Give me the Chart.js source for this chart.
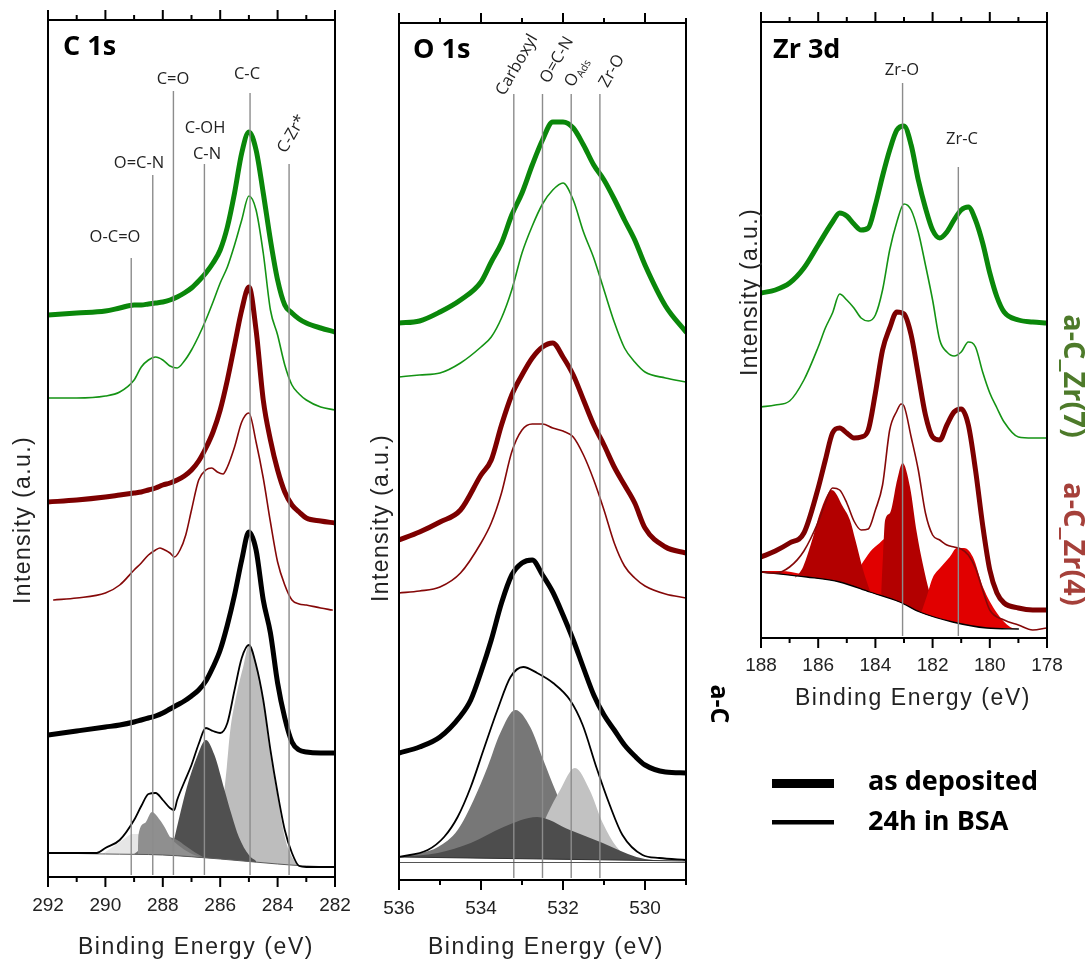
<!DOCTYPE html>
<html><head><meta charset="utf-8">
<script src="https://cdn.jsdelivr.net/npm/chart.js@4.4.1/dist/chart.umd.min.js"></script>
<style>
html,body{margin:0;padding:0;background:#fff;}
#wrap{position:relative;width:1091px;height:963px;overflow:hidden;background:#fff;}
#wrap canvas{position:absolute;left:0;top:0;}
</style></head><body>
<div id="wrap">
<canvas id="c1" width="1091" height="963"></canvas>
<canvas id="c2" width="1091" height="963"></canvas>
<canvas id="c3" width="1091" height="963"></canvas>
</div>
<script>
// ===================== C 1s =====================
const c1sTicks = [292, 290, 288, 286, 284, 282];
const c1sEnergy = [292,291,290,289.5,289,288.75,288.5,288.25,288,287.75,287.5,287.25,287,286.75,286.5,286.25,286,285.75,285.5,285.25,285,284.75,284.5,284.25,284,283.75,283.5,283.25,283,282.5,282];
const c1sZr7Deposited = [562,564,566,569,572,572,573,574,575,577,580,584,589,596,604,614,627,650,684,724,745,727,684,637,597,572,564,558,554,549,545];
const c1sZr7Bsa = [479,479,481,485,497,510,517,520,517,511,509,516,527,541,557,575,594,610,632,657,681,667,624,567,542,512,492,483,477,470,467];
const c1sZr4Deposited = [375,377,380,382,384,385,387,389,392,394,397,401,407,416,429,445,467,497,532,567,590,547,477,437,407,385,372,365,359,356,354];
const c1sZr4BsaEnergy = [291.8,291,290,289.5,289,288.75,288.5,288.25,288.1,288,287.75,287.6,287.4,287.2,287,286.75,286.5,286.3,286.1,285.9,285.75,285.5,285.25,285,284.75,284.5,284.25,284,283.75,283.5,283.25,283,282.5,282.1];
const c1sZr4Bsa = [277,279,284,292,307,314,322,327,329,328,324,320,327,342,367,397,407,409,405,403,410,430,455,464,435,399,355,315,292,277,273,272,269,267];
const c1sAcDeposited = [142,146,150,152,155,157,159,161,164,168,172,176,181,187,196,210,227,252,282,317,345,327,277,244,194,159,135,127,125,124,124];
const c1sAcBsaEnergy = [292,291,290.3,290,289.5,289,288.75,288.5,288.25,288,287.75,287.6,287.5,287.25,287,286.75,286.5,286.25,286,285.75,285.5,285.25,285,284.75,284.5,284.25,284,283.75,283.5,283.25,283,282.5,282];
const c1sAcBsa = [24,24,24,29,37,57,71,83,84,77,69,67,77,95,112,133,149,146,144,154,187,219,232,212,177,127,84,47,24,11,10,10,10];
const c1sBaseEnergy = [292,290,288,286,284,283,282];
const c1sBase = [24,23,22,18,13,11,10];
const c1sOCOEnergy = [290.1,289.75,289.4,289.05,288.7,288.35,287.75,287.25,286.7];
const c1sOCO = [23,30,37,43,43,38,29,24,19];
const c1sOCNEnergy = [288.87,288.85,288.62,288.38,288.1,287.92,287.75,287.47,287.05,286.7];
const c1sOCN = [23,42,54,65,57,49,40,32,24,20];
const c1sCOEnergy = [289.0,288.5,288.2,287.85,287.5,287.2,286.9,286.6];
const c1sCO = [23,34,38,40,37,31,25,20];
const c1sCNEnergy = [287.75,287.57,287.16,286.81,286.5,286.2,285.85,285.6,285.35,285.0,284.75];
const c1sCN = [22,42,90,120,137,122,87,62,40,22,16];
const c1sCCEnergy = [286.7,286.4,286.1,285.9,285.77,285.66,285.42,285.2,285.0,284.75,284.5,284.25,284.0,283.75,283.5,283.3];
const c1sCC = [19,25,50,77,110,144,184,210,232,214,174,122,80,40,20,12];
const c1sRefEnergy = [289.1,288.35,287.63,286.55,284.96,283.6];
const c1sRefTop = [619,702,786,713,784,713];

// ===================== O 1s =====================
const o1sTicks = [536, 534, 532, 530];
const o1sEnergy = [536,535.5,535,534.5,534,533.75,533.5,533.25,533,532.75,532.5,532.25,532,531.75,531.5,531.25,531,530.75,530.5,530.25,530,529.5,529];
const o1sZr7Deposited = [557,559,568,580,598,618,637,665,687,715,740,758,758,752,735,715,700,681,660,640,615,574,548];
const o1sZr7Bsa = [503,505,507,517,533,543,562,590,627,654,676,690,697,680,648,622,590,558,532,518,508,502,498];
const o1sZr4Deposited = [340,348,358,370,405,420,455,485,505,522,533,537,523,505,480,455,435,413,395,377,352,333,327];
const o1sZr4Bsa = [287,289,293,307,337,357,387,428,450,456,456,452,449,443,425,400,370,337,314,302,294,286,282];
const o1sAcDepositedEnergy = [536,535.5,535,534.5,534.25,534,533.75,533.5,533.25,533,532.75,532.5,532.25,532,531.75,531.5,531.25,531,530.75,530.5,530.25,530,529.5,529];
const o1sAcDeposited = [127,133,143,164,180,208,240,277,305,317,320,305,288,265,240,212,185,165,150,135,124,115,108,107];
const o1sAcBsaEnergy = [536,535.3,534.9,534.57,534.25,533.94,533.6,533.28,532.97,532.63,532.24,531.83,531.52,531.18,530.86,530.55,530.06,529.65,529];
const o1sAcBsa = [23,30,43,63,93,130,170,203,213,207,197,180,155,112,75,45,25,22,20];
const o1sBaseEnergy = [536,529];
const o1sBase = [23,19];
const o1sCarboxylEnergy = [536,535.47,535.05,534.57,534.18,533.84,533.53,533.16,532.8,532.48,532.19,531.9,531.59,531.1];
const o1sCarboxyl = [23,27,33,50,80,113,147,170,153,120,90,63,40,21];
const o1sAdsEnergy = [532.8,532.39,532.07,531.71,531.35,531.03,530.69,530.38,530.1];
const o1sAds = [25,65,90,112,90,57,33,23,20];
const o1sOCNEnergy = [536,535.05,534.25,533.45,532.63,531.83,531.03,530.21,529.8,529];
const o1sOCN = [23,27,37,53,63,50,37,23,20,19];
const o1sRefEnergy = [533.2,532.5,531.8,531.1];
const o1sRefTop = [786,786,786,786];

// ===================== Zr 3d =====================
const zrTicks = [188, 186, 184, 182, 180, 178];
const zrEnergyA = [188,187.5,187,186.5,186,185.5,185.25,185,184.75,184.5,184.25,184,183.75,183.5,183.25,183,182.75,182.5,182.25,182,181.75,181.5,181.25,181,180.75,180.5,180.25,180,179.75,179.5,179,178.5,178];
const zrZr7Deposited = [345,348,355,370,393,416,425,422,414,408,410,433,462,488,508,512,493,458,430,408,400,406,418,428,431,418,395,365,341,326,318,316,315];
const zrEnergyB = [188,187.5,187,186.5,186,185.75,185.5,185.25,185,184.75,184.5,184.25,184,183.75,183.5,183.25,183,182.75,182.5,182.25,182,181.75,181.5,181.25,181,180.75,180.5,180.25,180,179.75,179.5,179,178.5,178];
const zrZr7Bsa = [231,233,237,258,291,310,325,344,338,330,320,317,323,348,388,416,434,428,406,373,338,298,286,282,286,296,291,266,245,230,216,201,200,200];
const zrZr4Deposited = [81,87,95,105,150,178,205,210,205,200,201,208,245,288,310,326,324,303,263,223,201,198,213,226,229,213,168,113,68,45,35,30,28,28];
const zrZr4BsaEnergy = [188,187.5,187,186.5,186,185.75,185.5,185.25,185,184.75,184.5,184.25,184,183.75,183.5,183.25,183.1,183,182.75,182.5,182.25,182,181.75,181.5,181.25,181,180.75,180.5,180.25,180,179.5,179,178.5,178];
const zrZr4Bsa = [66,65,71,87,116,135,150,148,135,117,108,109,128,153,208,227,234,232,201,168,125,103,98,93,91,89,83,70,48,28,18,13,8,10];
const zrBaseEnergy = [188,186.4,185.25,184.2,183.15,182.45,181.3,180.1,179];
const zrBase = [66,61,56,46,36,26,16,10,9];
const zrBgEnergy = [188,187.3,186.6,186,185.3,184.5,183.6,182.8,182.2];
const zrBg = [67,67,64,61,58,51,42,33,27];
const zr52Energy = [186.8,186.53,186.18,185.94,185.52,185.13,184.89,184.7,184.43,184.19];
const zr52 = [60,71,101,125,148,131,118,98,68,47];
const zrO32Energy = [185.0,184.78,184.5,184.19,183.85,183.56,183.3,183.03,182.55,182.3,182.0];
const zrO32 = [54,61,73,86,95,101,96,85,58,38,26];
const zrO52Energy = [183.8,183.73,183.66,183.49,183.24,183.05,182.79,182.55,182.35,182.1,181.8];
const zrO52 = [44,85,118,125,158,175,151,105,75,45,24];
const zrC32Energy = [182.4,182.2,182.0,181.74,181.4,181.15,180.9,180.59,180.24,179.75,179.29,179.0];
const zrC32 = [25,42,60,70,81,90,90,81,51,25,11,9];
const zrRefEnergy = [183.05,181.1];
const zrRefTop = [555,471];

// ===================== helpers =====================
const GREEN = '#0a870a', GREEN_T = '#149314', RED = '#7d0000', RED_T = '#850808';
function pts(E, I){ return E.map((e,i)=>({x:e, y:I[i]})); }
function line(E, I, color, w, order){
  return {data:pts(E,I), borderColor:color, borderWidth:w, pointRadius:0, fill:false,
          cubicInterpolationMode:'monotone', order:order||0, borderJoinStyle:'round', borderCapStyle:'round'};
}
function comp(E, I, color, order){
  return {data:pts(E,I), borderColor:'rgba(0,0,0,0)', borderWidth:1, backgroundColor:color,
          pointRadius:0, fill:'0', cubicInterpolationMode:'monotone', order:order};
}
function txt(ctx, s, x, y, font, color, o){
  o = o || {};
  ctx.save();
  ctx.font = font; ctx.fillStyle = color;
  ctx.textAlign = o.align || 'center'; ctx.textBaseline = o.baseline || 'middle';
  if (o.spacing && ('letterSpacing' in ctx)) ctx.letterSpacing = o.spacing;
  ctx.translate(x, y); if (o.rot) ctx.rotate(o.rot);
  ctx.fillText(s, 0, 0);
  ctx.restore();
}
const DEG = Math.PI/180;
const ANN_FONT = '16.5px "Open Sans"';
const AXT_FONT = '23px "Liberation Sans"';

function decor(cfg){
  return {
    id:'decor',
    afterDatasetsDraw(chart){
      const {ctx, chartArea:a, scales:{x,y}} = chart;
      ctx.save();
      ctx.strokeStyle = '#8c8c8c'; ctx.lineWidth = 1.4;
      cfg.refE.forEach((e,i)=>{
        const px = x.getPixelForValue(e);
        ctx.beginPath(); ctx.moveTo(px, y.getPixelForValue(cfg.refTop[i])); ctx.lineTo(px, a.bottom-2); ctx.stroke();
      });
      if (cfg.innerLine){
        ctx.strokeStyle = '#555'; ctx.lineWidth = 1;
        const py = y.getPixelForValue(cfg.innerLine)+0.5;
        ctx.beginPath(); ctx.moveTo(a.left, py); ctx.lineTo(a.right, py); ctx.stroke();
      }
      ctx.restore();
    },
    afterDraw(chart){
      const {ctx, chartArea:a, scales:{x}} = chart;
      ctx.save();
      ctx.strokeStyle = '#000'; ctx.lineWidth = 2;
      ctx.strokeRect(a.left, a.top, a.right-a.left, a.bottom-a.top);
      for (let e = Math.ceil(Math.min(x.min,x.max)); e <= Math.max(x.min,x.max); e++){
        const px = x.getPixelForValue(e);
        const len = (e % 2 === 0) ? 10 : 5;
        ctx.beginPath(); ctx.moveTo(px, a.top); ctx.lineTo(px, a.top-len); ctx.stroke();
        ctx.beginPath(); ctx.moveTo(px, a.bottom); ctx.lineTo(px, a.bottom+len); ctx.stroke();
      }
      ctx.restore();
      txt(ctx, cfg.title, cfg.titlePos[0], cfg.titlePos[1], 'bold 27px "Open Sans"', '#000', {align:'left', baseline:'alphabetic'});
      txt(ctx, 'Binding Energy (eV)', cfg.xTitle[0], cfg.xTitle[1], AXT_FONT, '#222', {spacing:'1.6px'});
      txt(ctx, 'Intensity (a.u.)', cfg.yTitle[0], cfg.yTitle[1], AXT_FONT, '#222', {spacing:'1.4px', rot:-90*DEG});
      cfg.labels.forEach(l=>{
        if (l.sub){
          ctx.save();
          ctx.fillStyle = '#222'; ctx.textAlign='left'; ctx.textBaseline='alphabetic';
          ctx.translate(l.x, l.y); ctx.rotate(l.rot||0);
          ctx.font = ANN_FONT; ctx.fillText(l.t, 0, 0);
          const w = ctx.measureText(l.t).width;
          ctx.font = '10.5px "Open Sans"'; ctx.fillText(l.sub, w+0.5, 3);
          ctx.restore();
        } else {
          txt(ctx, l.t, l.x, l.y, ANN_FONT, '#222', {rot:l.rot||0});
        }
      });
      if (cfg.extra) cfg.extra(ctx);
    }
  };
}

function makeChart(id, datasets, xmin, xmax, ticks, ymax, padding, xHeight, tickPad, cfg){
  return new Chart(document.getElementById(id), {
    type:'line',
    data:{datasets},
    options:{
      responsive:false, animation:false, devicePixelRatio:1, events:[],
      layout:{padding},
      plugins:{legend:{display:false}, tooltip:{enabled:false}},
      scales:{
        x:{type:'linear', reverse:true, min:xmin, max:xmax,
           afterBuildTicks:(s)=>{ s.ticks = ticks.map(v=>({value:v})); },
           afterFit:(s)=>{ s.height = xHeight; },
           grid:{display:false, drawTicks:true, tickLength:10},
           border:{display:false},
           ticks:{padding:tickPad, maxRotation:0, autoSkip:false, color:'#222',
                  font:{family:'Liberation Sans', size:19}, callback:(v)=>String(v)}},
        y:{type:'linear', display:false, min:0, max:ymax}
      }
    },
    plugins:[decor(cfg)]
  });
}

// ---------- Panel 1: C 1s ----------
makeChart('c1', [
  line(c1sBaseEnergy, c1sBase, '#5a5a5a', 1, 5),
  comp(c1sOCOEnergy, c1sOCO, '#e6e6e6', 10),
  comp(c1sCCEnergy, c1sCC, '#bdbdbd', 9),
  comp(c1sCNEnergy, c1sCN, '#505050', 8),
  comp(c1sCOEnergy, c1sCO, '#777777', 7),
  comp(c1sOCNEnergy, c1sOCN, '#8f8f8f', 6),
  line(c1sAcBsaEnergy, c1sAcBsa, '#000', 1.8),
  line(c1sEnergy, c1sAcDeposited, '#000', 5),
  line(c1sZr4BsaEnergy, c1sZr4Bsa, RED_T, 1.6),
  line(c1sEnergy, c1sZr4Deposited, RED, 5),
  line(c1sEnergy, c1sZr7Bsa, GREEN_T, 1.6),
  line(c1sEnergy, c1sZr7Deposited, GREEN, 5)
], 282, 292, c1sTicks, 857, {left:48, top:20, right:756, bottom:0}, 86, 7, {
  refE:c1sRefEnergy, refTop:c1sRefTop,
  title:'C 1s', titlePos:[63,55], xTitle:[196,948], yTitle:[24,520],
  labels:[
    {t:'O-C=O', x:115, y:237}, {t:'O=C-N', x:139, y:163}, {t:'C=O', x:173, y:79},
    {t:'C-OH', x:205, y:128}, {t:'C-N', x:207, y:154}, {t:'C-C', x:247, y:74},
    {t:'C-Zr*', x:292, y:134, rot:-60*DEG}
  ]
});

// ---------- Panel 2: O 1s ----------
makeChart('c2', [
  line(o1sBaseEnergy, o1sBase, '#333', 1, 5),
  comp(o1sCarboxylEnergy, o1sCarboxyl, '#777777', 10),
  comp(o1sAdsEnergy, o1sAds, '#c2c2c2', 9),
  comp(o1sOCNEnergy, o1sOCN, '#4d4d4d', 8),
  line(o1sAcBsaEnergy, o1sAcBsa, '#000', 1.8),
  line(o1sAcDepositedEnergy, o1sAcDeposited, '#000', 5),
  line(o1sEnergy, o1sZr4Bsa, RED_T, 1.6),
  line(o1sEnergy, o1sZr4Deposited, RED, 5),
  line(o1sEnergy, o1sZr7Bsa, GREEN_T, 1.6),
  line(o1sEnergy, o1sZr7Deposited, GREEN, 5)
], 529, 536, o1sTicks, 857, {left:399, top:23, right:405, bottom:0}, 83, 7, {
  refE:o1sRefEnergy, refTop:o1sRefTop, innerLine:18,
  title:'O 1s', titlePos:[413,58], xTitle:[546,948], yTitle:[382,518],
  labels:[
    {t:'Carboxyl', x:517, y:65, rot:-60*DEG}, {t:'O=C-N', x:557, y:60, rot:-60*DEG},
    {t:'O', sub:'Ads', x:573, y:88, rot:-60*DEG}, {t:'Zr-O', x:612, y:71, rot:-60*DEG}
  ]
});

// ---------- Panel 3: Zr 3d ----------
makeChart('c3', [
  line(zrBaseEnergy, zrBase, '#000', 1.3, 5),
  comp(zrBgEnergy, zrBg, '#e10000', 12),
  comp(zrO32Energy, zrO32, '#e10000', 11),
  comp(zr52Energy, zr52, '#b30000', 10),
  comp(zrO52Energy, zrO52, '#b30000', 9),
  comp(zrC32Energy, zrC32, '#e10000', 8),
  line(zrZr4BsaEnergy, zrZr4Bsa, RED_T, 1.6),
  line(zrEnergyB, zrZr4Deposited, RED, 5),
  line(zrEnergyB, zrZr7Bsa, GREEN_T, 1.6),
  line(zrEnergyA, zrZr7Deposited, GREEN, 5)
], 178, 188, zrTicks, 616, {left:761, top:22, right:44, bottom:265}, 60, 6, {
  refE:zrRefEnergy, refTop:zrRefTop,
  title:'Zr 3d', titlePos:[773,58], xTitle:[913,699], yTitle:[751,292],
  labels:[{t:'Zr-O', x:902, y:70}, {t:'Zr-C', x:962, y:139}],
  extra:(ctx)=>{
    txt(ctx, 'a-C_Zr(7)', 1072, 376, 'bold 29px "Open Sans"', '#4d7a2a', {rot:90*DEG});
    txt(ctx, 'a-C_Zr(4)', 1072, 544, 'bold 29px "Open Sans"', '#a5403a', {rot:90*DEG});
    txt(ctx, 'a-C', 718, 704, 'bold 25px "Open Sans"', '#000', {rot:90*DEG});
    ctx.save(); ctx.fillStyle = '#000';
    ctx.fillRect(772, 779, 62, 9);
    ctx.fillRect(772, 820, 62, 4.5);
    ctx.restore();
    txt(ctx, 'as deposited', 868, 790, 'bold 27px "Open Sans"', '#000', {align:'left', baseline:'alphabetic'});
    txt(ctx, '24h in BSA', 868, 830, 'bold 27px "Open Sans"', '#000', {align:'left', baseline:'alphabetic'});
  }
});
</script>
</body></html>
